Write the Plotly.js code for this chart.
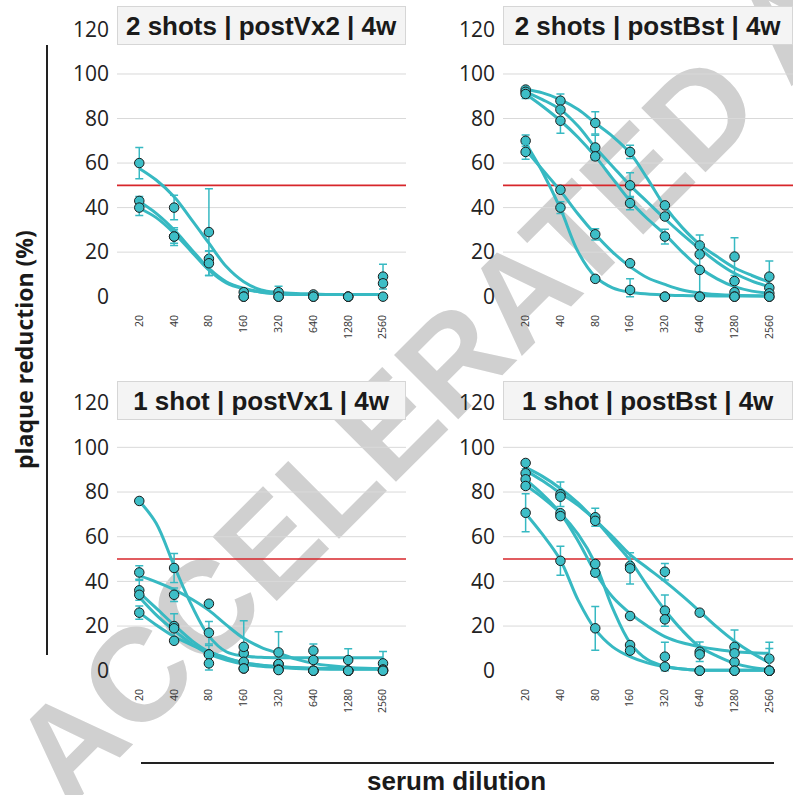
<!DOCTYPE html>
<html>
<head>
<meta charset="utf-8">
<script src="https://cdn.plot.ly/plotly-3.0.1.min.js"></script>
<style>
html,body{margin:0;padding:0;background:#ffffff;}
#chart{width:793px;height:795px;}
</style>
</head>
<body>
<div id="chart"></div>
<script>
// ---------- data ----------
var dilutions = [20, 40, 80, 160, 320, 640, 1280, 2560];
var dilutionLabels = ['20', '40', '80', '160', '320', '640', '1280', '2560'];
var fitDilutions = [20, 28, 40, 57, 80, 113, 160, 226, 320, 453, 640, 905, 1280, 1810, 2560];
var yTickVals = [0, 20, 40, 60, 80, 100, 120];
var gridVals = [20, 40, 60, 80, 100];
var threshold = 50;
var panelTitles = ['2 shots | postVx2 | 4w', '2 shots | postBst | 4w', '1 shot | postVx1 | 4w', '1 shot | postBst | 4w'];
var yTitle = 'plaque reduction (%)';
var xTitle = 'serum dilution';
var watermarkText = 'ACCELERATED ARTICLE PREVIEW';

// panel 1: 2 shots | postVx2 | 4w
var p1s1 = [60, 40, 29, 2, 2, 1, 0, 9];
var p1s1Err = [7, 5.5, 19.5, 0, 2.7, 0, 0, 5.6];
var p1s1Fit = [57.6, 52.4, 44.9, 34.4, 24, 13.5, 6.7, 3, 1.9, 1.4, 1.2, 1, 1, 1, 1];
var p1s2 = [43, 27, 17, 0, 0, 0, 0, 6];
var p1s2Err = [2, 4, 3.5, 0, 0, 0, 0, 0];
var p1s2Fit = [42.7, 37.4, 30, 21, 12.7, 6.7, 3.8, 2.1, 1.3, 1, 1, 1, 1, 1, 1];
var p1s3 = [40, 27, 15, 0, 0, 0, 0, 0];
var p1s3Err = [3.5, 3, 5.5, 0, 0, 0, 0, 0];
var p1s3Fit = [39.7, 35.5, 28.5, 20, 11.9, 6.2, 3.5, 2, 1.3, 1, 1, 1, 1, 1, 1];

// panel 2: 2 shots | postBst | 4w
var p2s1 = [93, 88, 78, 65, 41, 23, 18, 9];
var p2s1Err = [0, 3, 5, 3, 0, 4.7, 8.5, 7];
var p2s1Fit = [93, 91.5, 88.5, 84, 78, 72, 64.5, 53, 40.5, 31, 23.5, 18, 13, 9.5, 6.5];
var p2s2 = [92, 84, 67, 50, 36, 19, 7, 4];
var p2s2Err = [2, 0, 5.5, 5.6, 0, 0, 0, 0];
var p2s2Fit = [92, 88.5, 84, 76.5, 67, 58.5, 50, 42.5, 35, 28, 21.5, 15.5, 10.5, 7, 4.5];
var p2s3 = [91, 79, 63, 42, 27, 12, 2, 1.5];
var p2s3Err = [2, 5.6, 1.5, 3, 3.3, 12, 0, 0];
var p2s3Fit = [91, 85.5, 79, 71.5, 63, 53, 43, 35, 28, 20, 13, 8, 4.5, 2.5, 1.5];
var p2s4 = [70, 40, 8, 3, 0, 0, 0, 0];
var p2s4Err = [2.6, 2.6, 0, 5, 0, 0, 0, 0];
var p2s4Fit = [69, 56, 39.5, 20, 9, 4, 2, 1.2, 0.8, 0.5, 0.4, 0.3, 0.3, 0.3, 0.3];
var p2s5 = [65, 48, 28, 15, 0, 0, 0, 0];
var p2s5Err = [3.3, 0, 2.5, 0, 0, 0, 0, 0];
var p2s5Fit = [66, 57, 47.5, 37, 28, 20, 13.5, 8.5, 5.5, 3, 1.7, 1, 0.6, 0.4, 0.3];

// panel 3: 1 shot | postVx1 | 4w
var p3s1 = [76, 46, 17, 7.8, 3, 9, 4.8, 3.3];
var p3s1Err = [0, 6.5, 5, 0, 0, 3, 5, 5.3];
var p3s1Fit = [76, 66, 47, 29, 15.5, 8.5, 6.6, 6, 5.8, 5.8, 5.8, 5.8, 5.8, 5.8, 5.8];
var p3s2 = [44, 34, 30, 10.7, 8.2, 4.8, 0, 0];
var p3s2Err = [3, 3, 0, 11.7, 9.3, 0, 0, 0];
var p3s2Fit = [42.6, 39.8, 36.3, 32, 27, 20.5, 14.5, 10.5, 7.8, 5.2, 3.3, 2.2, 1.5, 1.1, 0.9];
var p3s3 = [36, 20, 7.3, 4, 3, 0, 0, 0.6];
var p3s3Err = [4.5, 5.5, 4, 0, 0, 0, 0, 0];
var p3s3Fit = [35, 28, 20.5, 13.5, 8.5, 5.5, 3.6, 2.5, 1.8, 1.4, 1.2, 1, 1, 1, 1];
var p3s4 = [34, 19, 7.3, 1, 0.6, 0, 0, 0];
var p3s4Err = [0, 0, 0, 0, 0, 0, 0, 0];
var p3s4Fit = [33, 25, 18, 12, 7.5, 4.8, 3, 2, 1.5, 1, 0.8, 0.7, 0.7, 0.7, 0.7];
var p3s5 = [26, 13.4, 3.3, 1, 0.3, 0, 0, 0];
var p3s5Err = [3, 0, 3, 0, 0, 0, 0, 0];
var p3s5Fit = [26, 20.5, 15.3, 11.5, 8.5, 5.8, 3.6, 2.5, 1.8, 1.3, 1, 0.9, 0.8, 0.8, 0.8];

// panel 4: 1 shot | postBst | 4w
var p4s1 = [93, 79, 68.7, 46.9, 44.3, 26, 10.7, 5.4];
var p4s1Err = [0, 5.5, 4, 0, 3.7, 0, 7.5, 7.3];
var p4s1Fit = [91, 87, 81.6, 75, 67.4, 60, 52, 46, 40, 33.5, 26.6, 19.5, 13.2, 8, 3.6];
var p4s2 = [88.4, 77.9, 67.1, 45.8, 26.9, 8.5, 3.9, 0];
var p4s2Err = [2, 0, 0, 7, 7, 4.4, 0, 0];
var p4s2Fit = [89.7, 85, 79.5, 74, 67.4, 58.5, 49.4, 38, 27.2, 18, 10.7, 6.5, 3.3, 1.5, 0.6];
var p4s3 = [85.7, 70.5, 43.9, 24.5, 23, 7.3, 7.8, 0];
var p4s3Err = [0, 0, 1.5, 0, 0, 0, 0, 10];
var p4s3Fit = [85.5, 79, 70.5, 58, 44, 33, 25.7, 20, 15.3, 12.5, 10.8, 9.5, 8.5, 8, 7.8];
var p4s4 = [82.7, 69.2, 47.8, 11.5, 6.3, 0, 0, 0];
var p4s4Err = [0, 0, 0, 0, 6.4, 0, 0, 0];
var p4s4Fit = [83, 77.5, 70.5, 61, 48, 28, 12.5, 5, 2, 0.8, 0.3, 0.2, 0.2, 0.2, 0.2];
var p4s5 = [70.7, 49.2, 19, 9, 1.8, 0, 0, 0];
var p4s5Err = [8.5, 6.5, 9.8, 0, 0, 0, 0, 0];
var p4s5Fit = [70.4, 61, 49.5, 31.5, 18.5, 10.7, 6.3, 3.5, 1.8, 0.8, 0.3, 0.2, 0.2, 0.2, 0.2];

// ---------- build ----------
var W = 793, H = 795;
function px2x(p) { return p / W; }
function px2y(p) { return 1 - p / H; }

var lineColor = '#37b9c2';
var markerColor = '#3dbec7';

var panels = [
  {xa: 'x', ya: 'y', xd: [117, 406], yd: [307.8, 25.0], tb: [6, 45],
   series: [[p1s1, p1s1Err, p1s1Fit], [p1s2, p1s2Err, p1s2Fit], [p1s3, p1s3Err, p1s3Fit]]},
  {xa: 'x2', ya: 'y2', xd: [503, 793], yd: [307.8, 25.0], tb: [6, 45],
   series: [[p2s1, p2s1Err, p2s1Fit], [p2s2, p2s2Err, p2s2Fit], [p2s3, p2s3Err, p2s3Fit], [p2s4, p2s4Err, p2s4Fit], [p2s5, p2s5Err, p2s5Fit]]},
  {xa: 'x3', ya: 'y3', xd: [117, 406], yd: [681.9, 398.2], tb: [381, 420],
   series: [[p3s1, p3s1Err, p3s1Fit], [p3s2, p3s2Err, p3s2Fit], [p3s3, p3s3Err, p3s3Fit], [p3s4, p3s4Err, p3s4Fit], [p3s5, p3s5Err, p3s5Fit]]},
  {xa: 'x4', ya: 'y4', xd: [503, 793], yd: [681.9, 398.2], tb: [381, 420],
   series: [[p4s1, p4s1Err, p4s1Fit], [p4s2, p4s2Err, p4s2Fit], [p4s3, p4s3Err, p4s3Fit], [p4s4, p4s4Err, p4s4Fit], [p4s5, p4s5Err, p4s5Fit]]}
];

var traces = [];
var shapes = [];
var annotations = [];
var layout = {
  width: W, height: H, autosize: false,
  margin: {l: 0, r: 0, t: 0, b: 0, pad: 0},
  paper_bgcolor: '#ffffff', plot_bgcolor: 'rgba(0,0,0,0)',
  showlegend: false, hovermode: false,
  font: {family: 'Open Sans, sans-serif', color: '#222222'}
};

// watermark (below everything)
shapes.push({
  type: 'line', xref: 'paper', yref: 'paper', layer: 'below',
  x0: px2x(27), y0: px2y(768), x1: px2x(793), y1: px2y(2),
  line: {color: 'rgba(0,0,0,0)', width: 0},
  label: {text: watermarkText, textposition: 'start', textangle: 'auto', yanchor: 'middle', padding: 0,
          font: {family: 'Liberation Sans, Arial, sans-serif', size: 132, color: '#d0d0d0', weight: 'bold'}}
});

panels.forEach(function (p, k) {
  var xKey = 'xaxis' + (k === 0 ? '' : (k + 1));
  var yKey = 'yaxis' + (k === 0 ? '' : (k + 1));
  var left = (k % 2 === 0);
  layout[xKey] = {
    domain: [px2x(p.xd[0]), px2x(p.xd[1])], anchor: p.ya, type: 'log',
    range: left ? [1.1084, 3.6069] : [1.1054, 3.6129],
    tickmode: 'array', tickvals: dilutions, ticktext: dilutionLabels, tickangle: -90,
    tickfont: {family: 'Open Sans, sans-serif', size: 10.5, color: '#333333'},
    showgrid: false, zeroline: false, showline: false, ticks: '', ticklabelstandoff: 4
  };
  layout[yKey] = {
    domain: [px2y(p.yd[0]), px2y(p.yd[1])], anchor: p.xa,
    range: [-5, 122], tickmode: 'array', tickvals: yTickVals,
    tickfont: {family: 'Open Sans, sans-serif', size: 21, color: '#222222'},
    showgrid: false, zeroline: false, showline: false, ticks: '', ticklabelstandoff: 7
  };
  gridVals.forEach(function (g) {
    shapes.push({type: 'line', xref: p.xa + ' domain', yref: p.ya, x0: 0, x1: 1, y0: g, y1: g,
                 layer: 'below', line: {color: '#d9d9d9', width: 1}});
  });
  shapes.push({type: 'line', xref: p.xa + ' domain', yref: p.ya, x0: 0, x1: 1, y0: threshold, y1: threshold,
               layer: 'below', line: {color: '#d7262b', width: 1.6}});
  p.series.forEach(function (s) {
    traces.push({type: 'scatter', mode: 'lines', x: fitDilutions, y: s[2], xaxis: p.xa, yaxis: p.ya,
                 line: {color: lineColor, width: 3, shape: 'spline', smoothing: 1}, hoverinfo: 'skip'});
  });
  p.series.forEach(function (s) {
    var vals = s[0], err = s[1];
    traces.push({type: 'scatter', mode: 'markers', x: dilutions, y: vals, xaxis: p.xa, yaxis: p.ya,
                 marker: {color: markerColor, size: 9.5, line: {color: '#1b1b1b', width: 1}},
                 error_y: {type: 'data', symmetric: false, array: err,
                           arrayminus: err.map(function (e, i) { return Math.min(e, vals[i]); }),
                           color: lineColor, thickness: 1.5, width: 4},
                 hoverinfo: 'skip'});
  });
  annotations.push({
    xref: 'paper', yref: 'paper', x: px2x((p.xd[0] + p.xd[1]) / 2), y: px2y((p.tb[0] + p.tb[1]) / 2),
    xanchor: 'center', yanchor: 'middle', showarrow: false,
    text: panelTitles[k], align: 'center', valign: 'middle',
    width: p.xd[1] - p.xd[0] - 2, height: p.tb[1] - p.tb[0] - 2, borderpad: 0,
    bgcolor: '#f4f4f4', bordercolor: '#d6d6d6', borderwidth: 1,
    font: {family: 'Liberation Sans, Arial, sans-serif', size: 26, color: '#1a1a1a', weight: 'bold'}
  });
});

// outer axis titles and bracket lines
shapes.push({type: 'line', xref: 'paper', yref: 'paper', x0: px2x(47), x1: px2x(47), y0: px2y(45), y1: px2y(655),
             line: {color: '#222222', width: 2}});
shapes.push({type: 'line', xref: 'paper', yref: 'paper', x0: px2x(141), x1: px2x(774), y0: px2y(763), y1: px2y(763),
             line: {color: '#222222', width: 2}});
annotations.push({xref: 'paper', yref: 'paper', x: px2x(24), y: px2y(350), xanchor: 'center', yanchor: 'middle',
                  showarrow: false, textangle: -90, text: yTitle,
                  font: {family: 'Open Sans, sans-serif', size: 23, color: '#1a1a1a', weight: 'bold'}});
annotations.push({xref: 'paper', yref: 'paper', x: px2x(456), y: px2y(781), xanchor: 'center', yanchor: 'middle',
                  showarrow: false, text: xTitle,
                  font: {family: 'Liberation Sans, Arial, sans-serif', size: 26, color: '#1a1a1a', weight: 'bold'}});

layout.shapes = shapes;
layout.annotations = annotations;

Plotly.newPlot('chart', traces, layout, {displayModeBar: false, staticPlot: true});
</script>
</body>
</html>
